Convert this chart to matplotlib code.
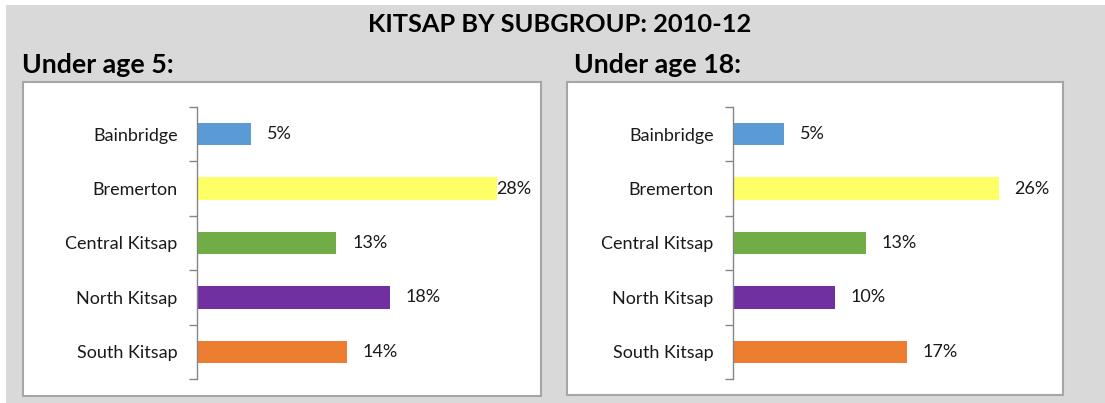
import matplotlib.pyplot as plt
from matplotlib.patches import Rectangle

# === DATA ===
categories = ["Bainbridge", "Bremerton", "Central Kitsap", "North Kitsap", "South Kitsap"]
under5 = [5, 28, 13, 18, 14]
under18 = [5, 26, 13, 10, 17]
bar_colors = ["#5b9bd5", "#ffff66", "#70ad47", "#7030a0", "#ed7d31"]

TITLE = "KITSAP BY SUBGROUP: 2010-12"
panel_titles = ["Under age 5:", "Under age 18:"]

# === LAYOUT (pixels) ===
W, H = 1105, 403
plt.rcParams["font.family"] = ["Lato", "DejaVu Sans"]

fig = plt.figure(figsize=(W / 100, H / 100), dpi=100)
fig.patch.set_facecolor("white")


def fbox(x0, y0, x1, y1):
    # pixel box (top-left origin) -> figure fraction rect
    return [x0 / W, 1 - y1 / H, (x1 - x0) / W, (y1 - y0) / H]


# gray backdrop
bg = fbox(6, 5, W, H)
fig.patches.append(Rectangle((bg[0], bg[1]), bg[2], bg[3], transform=fig.transFigure,
                             facecolor="#d9d9d9", edgecolor="none", zorder=0))

fig.text(560 / W, 1 - 25 / H, TITLE, ha="center", va="center",
         fontsize=18.3, fontweight="bold", color="black")

panels = [
    dict(box=(23, 82, 541, 396), ax=(197, 107, 518, 379), title_x=22, vals=under5),
    dict(box=(567, 82, 1063, 395), ax=(733, 107, 1040, 379), title_x=574, vals=under18),
]

XMAX = 30
LABEL_CAP = 28.0

for p, ptitle in zip(panels, panel_titles):
    b = fbox(*p["box"])
    fig.patches.append(Rectangle((b[0], b[1]), b[2], b[3], transform=fig.transFigure,
                                 facecolor="white", edgecolor="#a6a6a6", lw=1.5, zorder=1))
    fig.text(p["title_x"] / W, 1 - 65 / H, ptitle, ha="left", va="center",
             fontsize=19.3, fontweight="bold", color="black")

    ax = fig.add_axes(fbox(*p["ax"]), zorder=2)
    ax.patch.set_alpha(0)
    y = list(range(len(categories)))
    ax.barh(y, p["vals"], height=0.41, color=bar_colors)
    ax.set_xlim(0, XMAX)
    ax.set_ylim(len(categories) - 0.5, -0.5)

    for yi, v in zip(y, p["vals"]):
        ax.text(min(v + 1.5, LABEL_CAP), yi, f"{v}%", ha="left", va="center",
                fontsize=13, color="#1a1a1a")

    ax.set_yticks(y)
    ax.set_yticklabels(categories, fontsize=13, color="#1a1a1a")
    ax.tick_params(axis="y", which="major", length=0, pad=14)
    ax.set_yticks([i - 0.5 for i in range(len(categories) + 1)], minor=True)
    ax.tick_params(axis="y", which="minor", length=6, width=1, color="#868686", direction="out")
    ax.set_xticks([])
    for s in ["top", "right", "bottom"]:
        ax.spines[s].set_visible(False)
    ax.spines["left"].set_color("#868686")
    ax.spines["left"].set_linewidth(1)

fig.savefig("out.png", dpi=100, facecolor=fig.get_facecolor())
